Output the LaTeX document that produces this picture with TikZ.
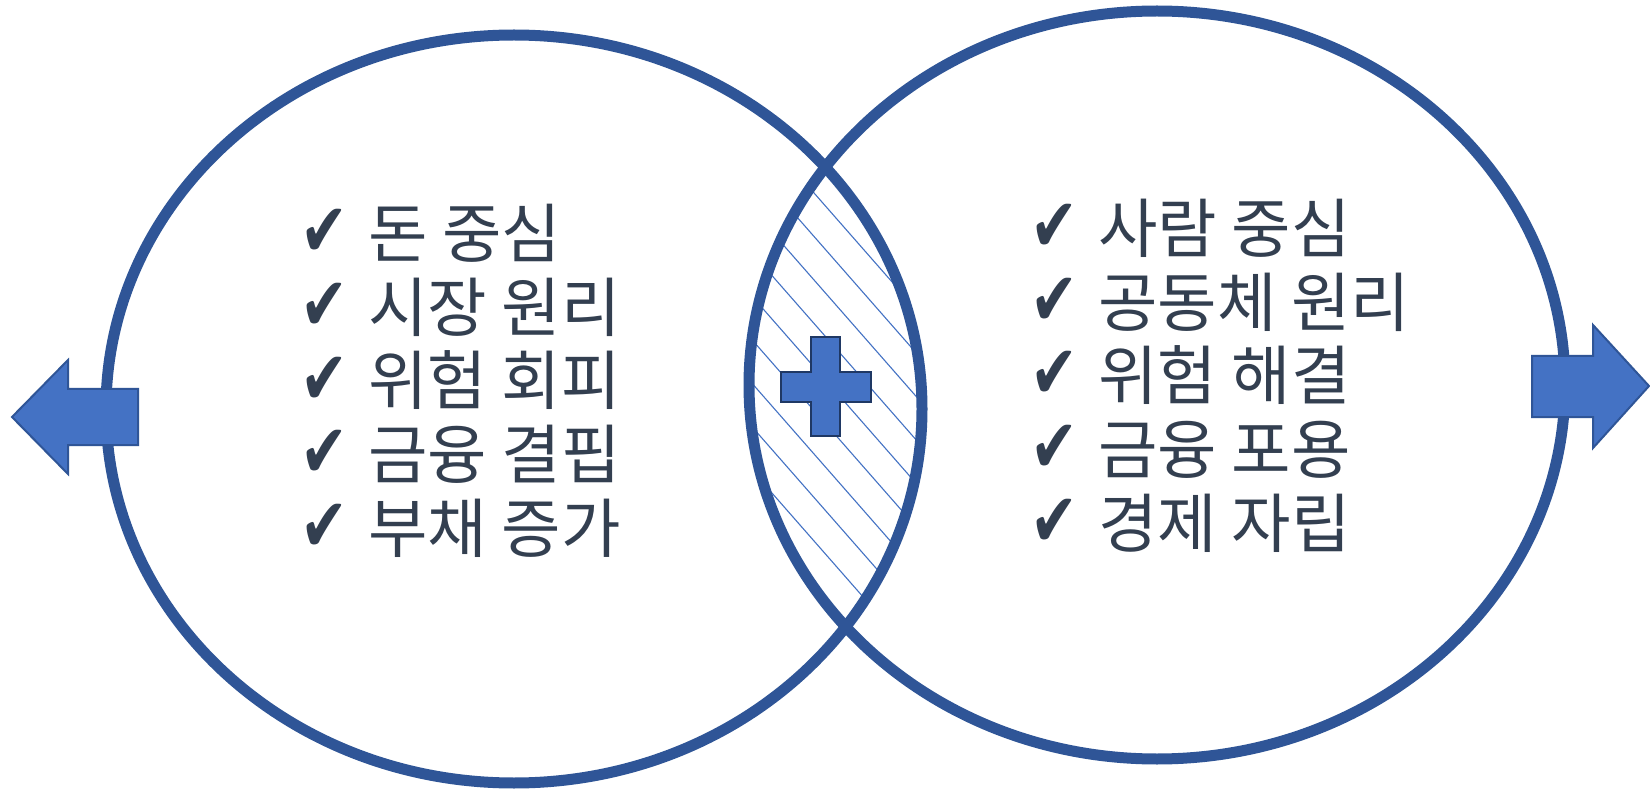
\documentclass[tikz,border=0pt]{standalone}
\usepackage{fontspec}
\usepackage{graphicx}
\newfontfamily\kr{Noto Sans CJK KR}
\newfontfamily\dv{DejaVu Sans}
\definecolor{ringblue}{HTML}{2F5597}
\definecolor{fillblue}{HTML}{4472C4}
\definecolor{plusedge}{HTML}{1F3864}
\definecolor{textcol}{HTML}{333F50}
\newcommand{\tickmark}{\scalebox{0.95}[1.25]{✔}}
\begin{document}
\begin{tikzpicture}[x=0.5pt,y=-0.5pt,
  ring/.style={draw=ringblue,line width=5.5pt},
  hatchline/.style={draw=fillblue,line width=0.55pt},
  arrowshape/.style={fill=fillblue,draw=ringblue,line width=1pt},
  plusshape/.style={fill=fillblue,draw=plusedge,line width=1.3pt},
  item/.style={anchor=base west,inner sep=0pt,text=textcol,font=\kr\fontsize{32.3}{38}\selectfont},
  tick/.style={anchor=base west,inner sep=0pt,text=textcol,font=\dv\fontsize{30}{34}\selectfont}]
\useasboundingbox (0,0) rectangle (1650,791);
\fill[white] (0,0) rectangle (1650,791);
% hatching in the overlap
\begin{scope}
  \clip (514,409) ellipse [x radius=204pt, y radius=187pt];
  \clip (1157,385) ellipse [x radius=204pt, y radius=187pt];
  \clip (0,192) rectangle (1650,612);
  \foreach \k in {0,...,8}{
    \draw[hatchline] (600,{1.14*600-735+43.5*\k}) -- (1000,{1.14*1000-735+43.5*\k});
  }
\end{scope}
% circles
\draw[ring] (514,409) ellipse [x radius=204pt, y radius=187pt];
\draw[ring] (1157,385) ellipse [x radius=204pt, y radius=187pt];
% plus
\draw[plusshape] (811,337) -- (840,337) -- (840,372) -- (871,372) -- (871,402) -- (840,402) -- (840,436) -- (811,436) -- (811,402) -- (781,402) -- (781,372) -- (811,372) -- cycle;
% arrows
\draw[arrowshape] (12,417) -- (68,360) -- (68,389) -- (138,389) -- (138,445) -- (68,445) -- (68,474) -- cycle;
\draw[arrowshape] (1532,356) -- (1593,356) -- (1593,325) -- (1649,386) -- (1593,448) -- (1593,417) -- (1532,417) -- cycle;
% left list
\foreach \t [count=\i from 0] in {돈 중심,시장 원리,위험 회피,금융 결핍,부채 증가}{
  \node[tick] (lt\i) at (300,{257+73.5*\i}) {\tickmark};
  \node[item] (l\i) at (368,{258+73.5*\i}) {\t};
}
% right list
\foreach \t [count=\i from 0] in {사람 중심,공동체 원리,위험 해결,금융 포용,경제 자립}{
  \node[tick] (rt\i) at (1030,{252+73.5*\i}) {\tickmark};
  \node[item] (r\i) at (1098,{253+73.5*\i}) {\t};
}
\end{tikzpicture}
\end{document}
